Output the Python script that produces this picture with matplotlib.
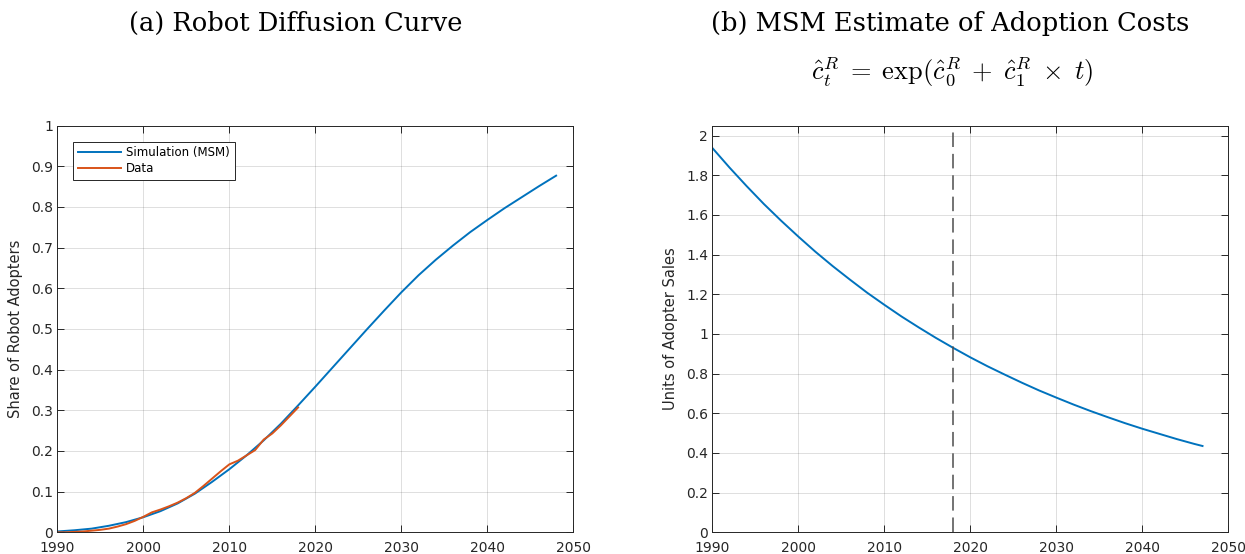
import numpy as np
import matplotlib
matplotlib.use("Agg")
import matplotlib.pyplot as plt

plt.rcParams.update({
    "font.family": "DejaVu Sans",
    "mathtext.fontset": "cm",
    "axes.edgecolor": "#262626",
    "axes.linewidth": 0.7,
    "xtick.color": "#262626",
    "ytick.color": "#262626",
    "xtick.labelsize": 10,
    "ytick.labelsize": 10,
})

# --- data ---
sim_years = [1990, 1992, 1994, 1996, 1998, 2000, 2002, 2004, 2006, 2008,
             2010, 2012, 2014, 2016, 2018, 2020, 2022, 2024, 2026, 2028,
             2030, 2032, 2034, 2036, 2038, 2040, 2042, 2044, 2046, 2048]
sim_share = [0.002, 0.005, 0.009, 0.016, 0.025, 0.037, 0.052, 0.071, 0.095, 0.124,
             0.155, 0.189, 0.226, 0.267, 0.312, 0.358, 0.405, 0.452, 0.499, 0.545,
             0.590, 0.632, 0.670, 0.705, 0.738, 0.768, 0.797, 0.824, 0.851, 0.877]

data_years = list(range(1990, 2019))
data_share = [0.000, 0.000, 0.001, 0.002, 0.004, 0.006, 0.009, 0.014, 0.020, 0.028,
              0.038, 0.049, 0.056, 0.064, 0.073, 0.084, 0.097, 0.114, 0.132, 0.150,
              0.167, 0.176, 0.189, 0.202, 0.228, 0.243, 0.263, 0.285, 0.307]

cost_years = [1990, 1992, 1994, 1996, 1998, 2000, 2002, 2004, 2006, 2008,
              2010, 2012, 2014, 2016, 2018, 2020, 2022, 2024, 2026, 2028,
              2030, 2032, 2034, 2036, 2038, 2040, 2042, 2044, 2046, 2047]
cost_units = [1.938, 1.839, 1.745, 1.655, 1.571, 1.491, 1.414, 1.342, 1.274, 1.208,
              1.147, 1.088, 1.033, 0.980, 0.930, 0.882, 0.837, 0.795, 0.754, 0.715,
              0.679, 0.644, 0.611, 0.580, 0.550, 0.522, 0.496, 0.470, 0.446, 0.435]

data_end_year = 2018

BLUE = "#0072BD"
ORANGE = "#D95319"

fig = plt.figure(figsize=(12.45, 5.54), dpi=100)
ax1 = fig.add_axes([0.0460, 0.0392, 0.4145, 0.7340])
ax2 = fig.add_axes([0.5721, 0.0392, 0.4145, 0.7340])


def style(ax):
    ax.grid(True, color="#262626", alpha=0.15, linewidth=0.7)
    ax.set_axisbelow(True)
    ax.tick_params(direction="in", length=5, width=0.7, top=True, right=True)
    ax.tick_params(axis="x", pad=6)
    ax.tick_params(axis="y", pad=3)
    ax.set_xlim(1990, 2050)
    ax.set_xticks(range(1990, 2051, 10))


# --- (a) diffusion curve ---
ax1.plot(sim_years, sim_share, color=BLUE, lw=1.4, label="Simulation (MSM)")
ax1.plot(data_years, data_share, color=ORANGE, lw=1.4, label="Data")
style(ax1)
ax1.set_ylim(0, 1)
ax1.set_yticks(np.arange(0, 1.01, 0.1))
ax1.set_yticklabels(["0", "0.1", "0.2", "0.3", "0.4", "0.5", "0.6", "0.7", "0.8", "0.9", "1"])
ax1.set_ylabel("Share of Robot Adopters", fontsize=10.5, color="#262626", labelpad=6)
leg = ax1.legend(loc="upper left", bbox_to_anchor=(0.019, 0.975), fontsize=8.5,
                 fancybox=False, framealpha=1, edgecolor="#262626",
                 handlelength=3.7, borderpad=0.4, labelspacing=0.2,
                 handletextpad=0.4)
leg.get_frame().set_linewidth(0.7)

# --- (b) adoption costs ---
ax2.plot(cost_years, cost_units, color=BLUE, lw=1.4)
ax2.axvline(data_end_year, color="#4d4d4d", lw=1.1, linestyle=(0, (9.5, 4.5)))
style(ax2)
ax2.set_ylim(0, 2.05)
ax2.set_yticks(np.arange(0, 2.01, 0.2))
ax2.set_yticklabels(["0", "0.2", "0.4", "0.6", "0.8", "1", "1.2", "1.4", "1.6", "1.8", "2"])
ax2.set_ylabel("Units of Adopter Sales", fontsize=10.5, color="#262626", labelpad=6)

# --- titles ---
fig.text(296 / 1245, 1 - 23 / 554, "(a) Robot Diffusion Curve", ha="center", va="center",
         fontsize=18.5, family="DejaVu Serif")
fig.text(950 / 1245, 1 - 23 / 554, "(b) MSM Estimate of Adoption Costs", ha="center",
         va="center", fontsize=18.5, family="DejaVu Serif")
fig.text(952 / 1245, 1 - 71 / 554,
         r"$\hat{c}_t^R \;=\; \mathrm{exp}(\hat{c}_0^R \;+\; \hat{c}_1^R \;\times\; t)$",
         ha="center", va="center", fontsize=19)

fig.savefig("out.png", dpi=100)
